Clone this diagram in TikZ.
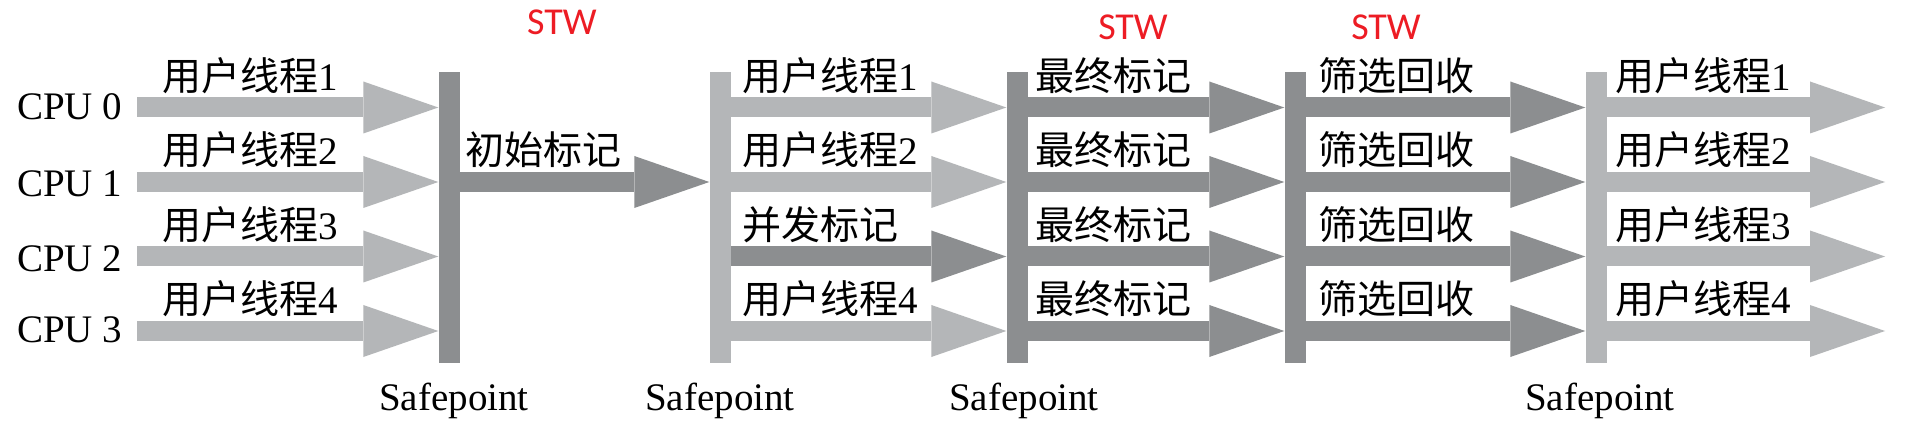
\documentclass[tikz,border=0pt]{standalone}
\usepackage{fontspec}
\setmainfont{Liberation Serif}
\newfontfamily\cjk{Noto Sans CJK SC}
\newfontfamily\stwfont{Carlito}
\usetikzlibrary{arrows.meta}
\definecolor{lightg}{RGB}{180,182,184}
\definecolor{darkg}{RGB}{140,142,144}
\definecolor{stwred}{RGB}{237,28,36}
\tikzset{
  fat/.style={line width=20pt, -{Triangle[length=75pt,width=52pt,line width=0pt]}},
  lt/.style={fat, draw=lightg},
  dk/.style={fat, draw=darkg},
  spbar/.style={rectangle, inner sep=0pt, minimum width=21pt, minimum height=291pt, draw=none},
  lbl/.style={font=\fontsize{39}{40}\selectfont, inner sep=0pt, anchor=base west},
  splbl/.style={font=\fontsize{39}{40}\selectfont, inner sep=0pt, anchor=base},
  stw/.style={font=\stwfont\fontsize{38}{40}\selectfont, text=stwred, inner sep=0pt, anchor=base},
}
\begin{document}
\begin{tikzpicture}[x=1pt,y=-1pt]
\useasboundingbox[fill=white] (0,0) rectangle (1909,446);
% row reference coordinates
\coordinate (r0) at (137,107.5);
\coordinate (r1) at (137,182);
\coordinate (r2) at (137,256.5);
\coordinate (r3) at (137,331);
\coordinate (endx) at (1885,0);
% safepoint bars
\node[spbar, fill=darkg]  (b1) at (449,217.5) {};
\node[spbar, fill=lightg] (b2) at (720,217.5) {};
\node[spbar, fill=darkg]  (b3) at (1017,217.5) {};
\node[spbar, fill=darkg]  (b4) at (1295,217.5) {};
\node[spbar, fill=lightg] (b5) at (1596,217.5) {};
% section 1: user threads
\foreach \r in {0,1,2,3}{
  \draw[lt] (r\r) -- (r\r -| b1.west);
}
% initial mark
\draw[dk] (r1 -| b1.east) -- (r1 -| b2.west);
% section 2
\draw[lt] (r0 -| b2.east) -- (r0 -| b3.west);
\draw[lt] (r1 -| b2.east) -- (r1 -| b3.west);
\draw[dk] (r2 -| b2.east) -- (r2 -| b3.west);
\draw[lt] (r3 -| b2.east) -- (r3 -| b3.west);
% section 3, 4, 5
\foreach \r in {0,1,2,3}{
  \draw[dk] (r\r -| b3.east) -- (r\r -| b4.west);
  \draw[dk] (r\r -| b4.east) -- (r\r -| b5.west);
  \draw[lt] (r\r -| b5.east) -- (r\r -| endx);
}
% CPU labels
\node[lbl] (cpu0) at (17,120) {CPU 0};
\node[lbl] (cpu1) at (17,197) {CPU 1};
\node[lbl] (cpu2) at (17,272) {CPU 2};
\node[lbl] (cpu3) at (17,342) {CPU 3};
% row labels
\foreach \r/\y in {0/90.5,1/165,2/239.5,3/314}{
  \pgfmathtruncatemacro{\n}{\r+1}
  \node[lbl] (ua\r) at (162,\y) {{\cjk 用户线程}\n};
  \node[lbl] (ue\r) at (1615,\y) {{\cjk 用户线程}\n};
  \node[lbl] (fm\r) at (1035,\y) {\cjk 最终标记};
  \node[lbl] (sx\r) at (1318,\y) {\cjk 筛选回收};
}
\node[lbl] (init) at (465,165) {\cjk 初始标记};
\node[lbl] (ub0) at (742,90.5) {{\cjk 用户线程}1};
\node[lbl] (ub1) at (742,165) {{\cjk 用户线程}2};
\node[lbl] (cm)  at (742,239.5) {\cjk 并发标记};
\node[lbl] (ub3) at (742,314) {{\cjk 用户线程}4};
% safepoint labels
\node[splbl] (sp1) at (454,410) {Safepoint};
\node[splbl] (sp2) at (720,410) {Safepoint};
\node[splbl] (sp3) at (1024,410) {Safepoint};
\node[splbl] (sp5) at (1600,410) {Safepoint};
% STW labels
\node[stw] (stw1) at (562,35) {STW};
\node[stw] (stw2) at (1133,40) {STW};
\node[stw] (stw3) at (1386,40) {STW};
\end{tikzpicture}
\end{document}
